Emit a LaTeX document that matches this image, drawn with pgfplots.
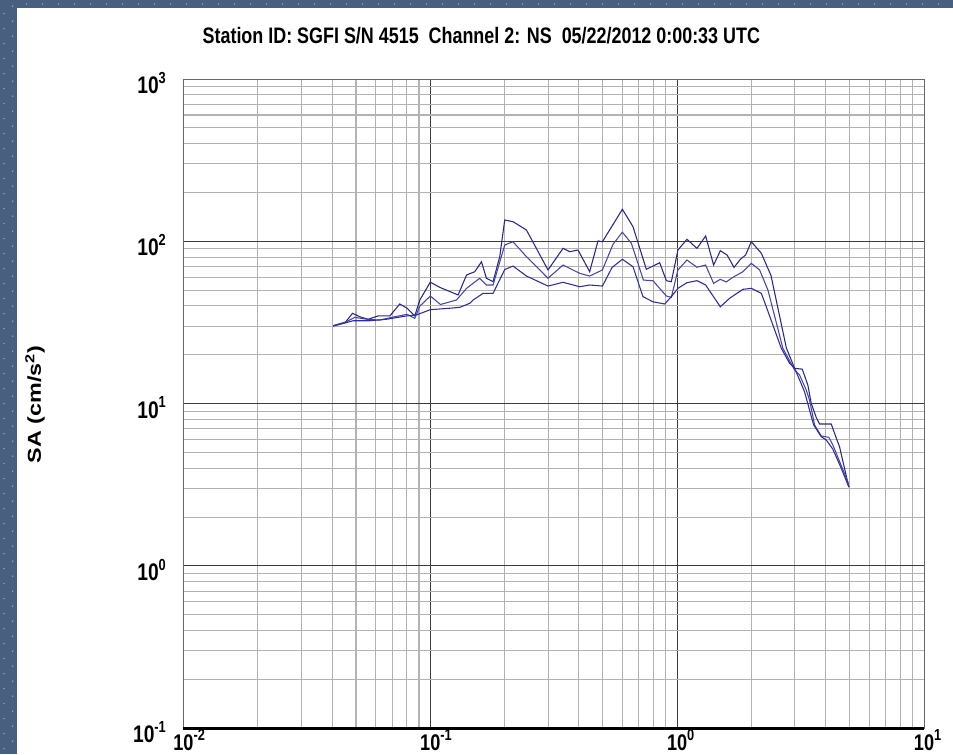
\documentclass[border=0pt]{standalone}
\usepackage{pgfplots}
\pgfplotsset{compat=1.18}
\usepackage{fontspec}
\setmainfont{Liberation Sans}
\newfontfamily\narrowsans[FakeStretch=0.8]{Liberation Sans}

\definecolor{frameblue}{RGB}{72,95,128}
\definecolor{dotblue}{RGB}{140,172,212}
\definecolor{minorgrid}{RGB}{178,178,178}
\definecolor{majorgrid}{RGB}{60,60,60}
\definecolor{saTop}{RGB}{40,40,140}
\definecolor{saMid}{RGB}{70,70,170}
\definecolor{saBot}{RGB}{45,45,160}

\newcommand\ticksize{\fontsize{18}{20}\selectfont}
\newcommand\xticksize{\fontsize{17}{19}\selectfont}
\newcommand\titlesize{\fontsize{16.8}{19}\selectfont}
\newcommand\supsize{\fontsize{12}{12}\selectfont}
% x labels: the "10" is centred on the tick, the exponent hangs to the right
\newcommand\xdec[1]{10\rlap{\raisebox{0.42em}{\supsize #1}}}
\newcommand\ydec[1]{10\raisebox{0.42em}{\supsize #1}}

\begin{document}
\begin{tikzpicture}
% page background with the dotted frame strips
\fill[white] (0,0) rectangle (714.75pt,565.5pt);
\fill[frameblue] (0,0) rectangle (13.1pt,565.5pt);
\fill[frameblue] (0,559.5pt) rectangle (714.75pt,565.5pt);
\foreach \k in {0,...,50} {
  \fill[dotblue] (3pt,{\k*11.25pt+4pt}) circle (0.6pt);
  \fill[dotblue] (9.5pt,{\k*11.25pt+9.6pt}) circle (0.6pt);
}
\foreach \k in {1,...,58} {
  \fill[dotblue] ({\k*12pt+8pt},562.5pt) circle (0.6pt);
}

\begin{axis}[
  name=main,
  at={(137.6pt,19.35pt)}, anchor=south west,
  scale only axis, width=555.4pt, height=486.9pt,
  xmode=log, ymode=log,
  xmin=0.01, xmax=10, ymin=0.1, ymax=1000,
  xtick={0.01,0.1,1,10},
  xticklabels={\xdec{-2},\xdec{-1},\xdec{0},\xdec{1}},
  ytick={0.1,1,10,100,1000},
  yticklabels={\ydec{-1},\ydec{0},\ydec{1},\ydec{2},\ydec{3}},
  minor xtick={0.02,0.03,0.04,0.05,0.06,0.07,0.08,0.09,
               0.2,0.3,0.4,0.5,0.6,0.7,0.8,0.9,2,3,4,5,6,7,8,9},
  minor ytick={0.2,0.3,0.4,0.5,0.6,0.7,0.8,0.9,2,3,4,5,6,7,8,9,
               20,30,40,50,60,70,80,90,200,300,400,500,600,700,800,900},
  grid=both,
  major grid style={majorgrid, line width=0.75pt},
  minor grid style={minorgrid, line width=0.8pt},
  major tick length=0pt, minor tick length=0pt,
  axis line style={draw=black!60, line width=0.75pt},
  xticklabel style={font=\narrowsans\bfseries\xticksize, anchor=north, inner sep=0pt, yshift=-1pt},
  yticklabel style={font=\narrowsans\bfseries\ticksize, anchor=east, inner sep=0pt, xshift=-13pt, yshift=-3pt},
]
% maximum
\addplot[saTop, line width=0.8pt] coordinates {
(0.0404,30.2)(0.0451,31.5)(0.0484,36.0)(0.0518,34.3)(0.0560,33.1)(0.0615,34.7)
(0.0686,34.7)(0.0752,41.1)(0.0806,38.7)(0.0865,34.7)(0.0907,43.5)(0.100,56.0)
(0.1093,52.0)(0.1296,46.7)(0.1402,62.0)(0.1514,65.0)(0.1612,74.8)(0.1688,59.2)
(0.1796,56.4)(0.1911,80.4)(0.2002,135.3)(0.2163,132.1)(0.2452,117.4)(0.2998,66.6)
(0.3449,90.5)(0.3671,86.3)(0.3966,88.4)(0.4421,65.0)(0.4779,100.5)(0.4980,99.4)
(0.600,157.5)(0.6624,123.0)(0.7503,67.2)(0.8494,73.8)(0.9044,57.2)(0.9473,56.4)
(1.0074,88.4)(1.0957,102.9)(1.2027,90.5)(1.3045,107.8)(1.405,71.4)(1.496,87.5)
(1.594,82.3)(1.70,69.0)(1.803,77.5)(1.894,82.3)(1.997,99.4)(2.193,84.4)
(2.40,61.5)(2.77,22.0)(2.991,16.5)(3.213,16.3)(3.385,13.0)(3.494,10.0)
(3.662,8.2)(3.775,7.49)(4.210,7.49)(4.341,6.56)(4.548,5.42)(4.96,3.06)
};
% middle
\addplot[saMid, line width=0.8pt] coordinates {
(0.0404,30.2)(0.0458,32.0)(0.0494,34.0)(0.0552,33.1)(0.0624,32.7)(0.0697,34.0)
(0.0806,35.5)(0.0865,33.5)(0.0907,39.9)(0.100,46.0)(0.1100,40.8)(0.1277,43.5)
(0.1402,51.3)(0.1586,59.2)(0.1688,53.8)(0.1796,53.8)(0.2002,94.9)(0.2163,99.4)
(0.2452,80.4)(0.2998,59.2)(0.3449,71.4)(0.4030,63.5)(0.4421,61.1)(0.4980,66.6)
(0.550,96.0)(0.600,113.8)(0.6525,97.2)(0.73,57.7)(0.798,57.2)(0.9044,46.0)
(0.9473,45.2)(1.0074,66.6)(1.0957,76.7)(1.2027,69.2)(1.3045,71.4)(1.405,55.1)
(1.496,58.3)(1.582,56.2)(1.682,60.0)(1.847,65.0)(1.997,73.2)(2.158,66.6)
(2.332,50.1)(2.681,21.9)(2.991,16.1)(3.133,15.0)(3.335,12.1)(3.439,10.5)
(3.604,7.38)(3.835,6.32)(4.117,6.20)(4.273,5.56)(4.914,3.30)(4.96,3.06)
};
% minimum
\addplot[saBot, line width=0.8pt] coordinates {
(0.0404,30.0)(0.0487,32.4)(0.0569,32.4)(0.0665,33.1)(0.0801,34.7)(0.0879,35.2)
(0.100,37.9)(0.1199,38.7)(0.1317,39.2)(0.1445,41.5)(0.1491,43.5)(0.1636,47.8)
(0.1796,47.8)(0.2002,67.0)(0.2163,70.4)(0.2452,61.1)(0.2998,53.0)(0.3449,55.9)
(0.4030,52.5)(0.4421,53.8)(0.4980,53.0)(0.545,69.0)(0.600,77.5)(0.6624,69.7)
(0.7268,45.6)(0.798,42.4)(0.8901,41.1)(0.9473,45.6)(1.0074,51.3)(1.0957,55.6)
(1.2027,57.2)(1.3045,53.8)(1.496,39.5)(1.632,44.6)(1.847,50.6)(1.997,51.3)
(2.193,47.8)(2.297,39.5)(2.642,21.9)(2.855,17.7)(2.991,16.5)(3.133,14.0)
(3.283,11.8)(3.57,7.4)(3.835,6.25)(4.018,5.97)(4.273,5.24)(4.62,4.0)(4.96,3.06)
};
\end{axis}
\draw[black, line width=2.25pt] (main.south west) -- (main.south east);

\node[font=\narrowsans\bfseries\titlesize, anchor=center] at (361pt,539pt)
  {Station ID: SGFI S/N 4515\ \ Channel 2: NS\ \ 05/22/2012 0:00:33 UTC};
\node[rotate=90, anchor=center] at (26.25pt,262pt)
  {\scalebox{1}[0.8]{\bfseries\fontsize{17.5}{19}\selectfont SA (cm/s\textsuperscript{2})}};

\pgfresetboundingbox
\path (0,0) rectangle (714.75pt,565.5pt);
\end{tikzpicture}
\end{document}
